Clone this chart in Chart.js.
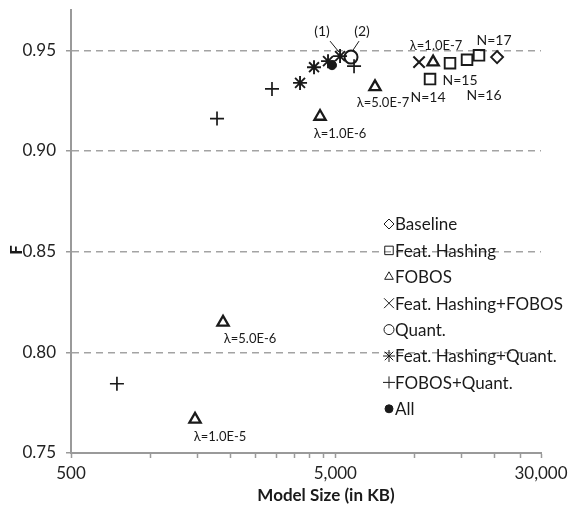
<!DOCTYPE html>
<html>
<head>
<meta charset="utf-8">
<script src="https://cdn.jsdelivr.net/npm/chart.js@4/dist/chart.umd.min.js"></script>
<style>
  html, body { margin: 0; background: #fff; }
  #wrap { width: 573px; height: 514px; }
</style>
</head>
<body>
<div id="wrap"><canvas id="c" width="573" height="514"></canvas></div>
<script>
// model size (KB) vs F
const baselineData   = [[20460, 0.9466]];
const hashingData    = [[11410, 0.9357], [13580, 0.9436], [15750, 0.9453], [17480, 0.9475]];
const hashingLabels  = ['N=14', 'N=15', 'N=16', 'N=17'];
const fobosData      = [[1473, 0.7667], [1880, 0.8149], [4377, 0.9171], [7065, 0.9318], [11720, 0.9441]];
const fobosLabels    = ['λ=1.0E-5', 'λ=5.0E-6', 'λ=1.0E-6', 'λ=5.0E-7', 'λ=1.0E-7'];
const hashFobosData  = [[10370, 0.9441]];
const quantData      = [[5733, 0.9466]];
const hashQuantData  = [[3677, 0.9338], [4153, 0.9416], [4692, 0.9446], [5210, 0.9471]];
const fobosQuantData = [[746, 0.7844], [1784, 0.9161], [2880, 0.9308], [5886, 0.9421]];
const allData        = [[4858, 0.9426]];

const xTickValues = [500, 1000, 1500, 2000, 2500, 3000, 3500, 4000, 4500, 5000, 10000, 15000, 20000, 25000, 30000];
const xTickLabels = [500, 5000, 30000];
const yTickValues = [0.75, 0.80, 0.85, 0.90, 0.95];

const INK = '#1a1a1a';
Chart.defaults.font.family = 'Lato';
Chart.defaults.color = '#222';

const toPts = arr => arr.map(p => ({ x: p[0], y: p[1] }));
function ds(label, data, style, r, bw, fill) {
  return {
    label, data: toPts(data),
    pointStyle: style, pointRadius: r, pointBorderWidth: bw,
    pointBorderColor: INK, pointBackgroundColor: fill || 'rgba(0,0,0,0)',
    showLine: false
  };
}

const datasets = [
  ds('Baseline', baselineData, 'rectRot', 6, 1.9),
  ds('Feat. Hashing', hashingData, 'rect', 7.5, 1.9),
  ds('FOBOS', fobosData, 'triangle', 6.5, 2.3),
  ds('Feat. Hashing+FOBOS', hashFobosData, 'crossRot', 8, 2),
  ds('Feat. Hashing+Quant.', hashQuantData, 'star', 7, 1.9),
  ds('FOBOS+Quant.', fobosQuantData, 'cross', 7, 1.7),
  ds('Quant.', quantData, 'circle', 6.5, 2),
  ds('All', allData, 'circle', 4.5, 1, INK)
];
const legendOrder = ['Baseline', 'Feat. Hashing', 'FOBOS', 'Feat. Hashing+FOBOS', 'Quant.', 'Feat. Hashing+Quant.', 'FOBOS+Quant.', 'All'];
const legendRadius = { 'Baseline': 5, 'Feat. Hashing': 6, 'FOBOS': 5, 'Feat. Hashing+FOBOS': 7, 'Quant.': 5, 'Feat. Hashing+Quant.': 6, 'FOBOS+Quant.': 6, 'All': 4 };

// text offsets (px) from the marker they describe
const fobosLabelOffsets   = [[25, 17], [27, 16], [20, 17], [8, 16], [3, -16]];
const hashingLabelOffsets = [[-2, 18], [10, 17], [17, 36], [15, -15]];

const extras = {
  id: 'extras',
  afterDatasetsDraw(chart) {
    const ctx = chart.ctx;
    const byLabel = l => chart.getDatasetMeta(chart.data.datasets.findIndex(d => d.label === l)).data;
    ctx.save();
    ctx.fillStyle = INK;
    ctx.textAlign = 'center';
    ctx.textBaseline = 'middle';
    ctx.font = '13px Lato';
    byLabel('FOBOS').forEach((el, i) => {
      const o = fobosLabelOffsets[i];
      ctx.fillText(fobosLabels[i], el.x + o[0], el.y + o[1]);
    });
    ctx.font = '14px Lato';
    byLabel('Feat. Hashing').forEach((el, i) => {
      const o = hashingLabelOffsets[i];
      ctx.fillText(hashingLabels[i], el.x + o[0], el.y + o[1]);
    });

    // (1) / (2) callouts
    ctx.strokeStyle = INK;
    ctx.lineWidth = 1;
    const c1 = byLabel('Feat. Hashing+Quant.')[3];
    const c2 = byLabel('Quant.')[0];
    ctx.fillText('(1)', c1.x - 18, c1.y - 25);
    ctx.fillText('(2)', c2.x + 11, c2.y - 26);
    ctx.beginPath();
    ctx.moveTo(c1.x - 10, c1.y - 15); ctx.lineTo(c1.x - 1, c1.y - 4);
    ctx.moveTo(c2.x + 8, c2.y - 16); ctx.lineTo(c2.x + 2, c2.y - 7);
    ctx.stroke();

    // legend
    ctx.textAlign = 'left';
    ctx.font = '17px Lato';
    legendOrder.forEach((name, i) => {
      const d = chart.data.datasets.find(s => s.label === name);
      const y = 224 + i * 26.4;
      ctx.fillStyle = d.pointBackgroundColor;
      ctx.strokeStyle = INK;
      Chart.helpers.drawPoint(ctx, {
        pointStyle: d.pointStyle, radius: legendRadius[name], borderWidth: d.pointBorderWidth, rotation: 0
      }, 389, y);
      ctx.fillStyle = INK;
      ctx.fillText(name, 395, y + 1);
    });

    // axis titles
    ctx.font = 'bold 17px Lato';
    ctx.textAlign = 'center';
    ctx.fillText('Model Size (in KB)', 326, 496);
    ctx.translate(17, 250);
    ctx.rotate(-Math.PI / 2);
    ctx.fillText('F', 0, 0);
    ctx.restore();
  }
};

new Chart(document.getElementById('c'), {
  type: 'scatter',
  data: { datasets },
  options: {
    responsive: false,
    animation: false,
    layout: { padding: { top: 5, right: 32, left: 0, bottom: 0 } },
    plugins: { legend: { display: false }, tooltip: { enabled: false } },
    scales: {
      x: {
        type: 'logarithmic', min: 500, max: 30000,
        afterBuildTicks: s => { s.ticks = xTickValues.map(v => ({ value: v })); },
        afterFit: s => { s.height = 61; s.paddingLeft = 0; s.paddingRight = 0; },
        ticks: {
          autoSkip: false, maxRotation: 0, padding: 5,
          font: { size: 17 }, color: '#222',
          callback: v => xTickLabels.includes(v) ? v.toLocaleString('en-US') : ''
        },
        grid: { drawOnChartArea: false, drawTicks: true, tickLength: 5, tickColor: '#9a9a9a', tickWidth: 1.5 },
        border: { display: true, color: '#9a9a9a', width: 2 }
      },
      y: {
        min: 0.75, max: 0.97,
        afterBuildTicks: s => { s.ticks = yTickValues.map(v => ({ value: v })); },
        afterFit: s => { s.width = 71; s.paddingTop = 0; s.paddingBottom = 0; },
        ticks: {
          padding: 10, font: { size: 17 }, color: '#222',
          callback: v => v.toFixed(2)
        },
        grid: {
          color: c => (c.tick && c.tick.value === 0.75) ? 'rgba(0,0,0,0)' : '#a3a3a3',
          lineWidth: 1.5, tickLength: 5, tickColor: '#9a9a9a', tickWidth: 1.5,
          tickBorderDash: []
        },
        border: { display: true, color: '#9a9a9a', width: 2, dash: [7, 5] }
      }
    }
  },
  plugins: [extras]
});
</script>
</body>
</html>
